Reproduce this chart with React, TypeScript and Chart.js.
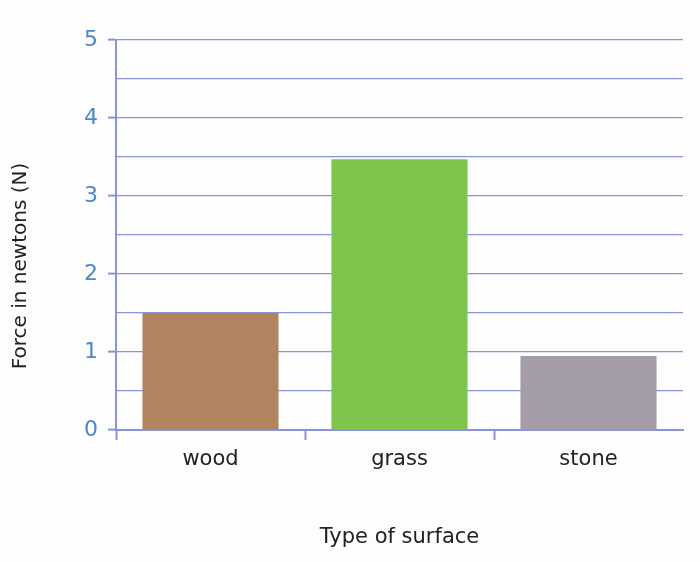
import { useEffect, useRef } from "react";
import Chart from "chart.js/auto";

const surfaces = ["wood", "grass", "stone"];
const forces = [1.5, 3.47, 0.95];
const barColours = ["#b0845f", "#7ec54e", "#a59ca9"];

const yTitle = "Force in newtons (N)";
const xTitle = "Type of surface";

const blue = "#4b88c8";
const lineBlue = "#8a93d6";
const fontFamily = "'DejaVu Sans', sans-serif";

// y title sits a little below the middle of the axis in the original, so draw it by hand
const yTitlePlugin = {
  id: "yTitle",
  afterDraw(chart: any) {
    const ctx = chart.ctx;
    ctx.save();
    ctx.translate(21, 266);
    ctx.rotate(-Math.PI / 2);
    ctx.font = `20px ${fontFamily}`;
    ctx.fillStyle = "#222";
    ctx.textAlign = "center";
    ctx.textBaseline = "middle";
    ctx.fillText(yTitle, 0, 0);
    ctx.restore();
  },
};

export default function App() {
  const canvasRef = useRef<HTMLCanvasElement | null>(null);
  const chartRef = useRef<Chart | null>(null);

  useEffect(() => {
    if (!canvasRef.current) return;
    chartRef.current?.destroy();

    chartRef.current = new Chart(canvasRef.current, {
      type: "bar",
      data: {
        labels: surfaces,
        datasets: [
          {
            data: forces,
            backgroundColor: barColours,
            borderWidth: 0,
            barPercentage: 0.72,
            categoryPercentage: 1,
          },
        ],
      },
      options: {
        animation: false,
        responsive: true,
        maintainAspectRatio: false,
        layout: { padding: { left: 8, top: 40, right: 17, bottom: 0 } },
        plugins: {
          legend: { display: false },
          tooltip: { enabled: false },
        },
        scales: {
          x: {
            afterFit: (scale: any) => {
              scale.height = 132;
            },
            border: { color: lineBlue, width: 2 },
            grid: {
              offset: true,
              drawOnChartArea: false,
              drawTicks: true,
              tickLength: 10,
              tickWidth: 2,
              tickColor: (c: any) =>
                c.index === undefined || c.index >= surfaces.length
                  ? "rgba(0,0,0,0)"
                  : lineBlue,
            },
            ticks: {
              color: "#222",
              padding: 7,
              font: { family: fontFamily, size: 21 },
            },
            title: {
              display: true,
              text: xTitle,
              color: "#222",
              font: { family: fontFamily, size: 21 },
              padding: { top: 0, bottom: 12 },
            },
          },
          y: {
            min: 0,
            max: 5,
            afterFit: (scale: any) => {
              scale.width = 108;
            },
            border: { color: lineBlue, width: 2 },
            grid: {
              color: lineBlue,
              lineWidth: 1.2,
              tickLength: 8,
              tickWidth: 2,
              tickColor: (c: any) =>
                c.tick && Number.isInteger(c.tick.value) ? lineBlue : "rgba(0,0,0,0)",
            },
            ticks: {
              stepSize: 0.5,
              autoSkip: false,
              padding: 10,
              color: blue,
              font: { family: fontFamily, size: 22 },
              callback: (v: any) => (Number.isInteger(v) ? String(v) : ""),
            },
            title: { display: false },
          },
        },
      },
      plugins: [yTitlePlugin],
    });

    return () => {
      chartRef.current?.destroy();
      chartRef.current = null;
    };
  }, []);

  return (
    <div
      style={{
        position: "fixed",
        left: 0,
        top: 0,
        width: 700,
        height: 562,
        background: "#fdfdfd",
      }}
    >
      <canvas ref={canvasRef} />
    </div>
  );
}
